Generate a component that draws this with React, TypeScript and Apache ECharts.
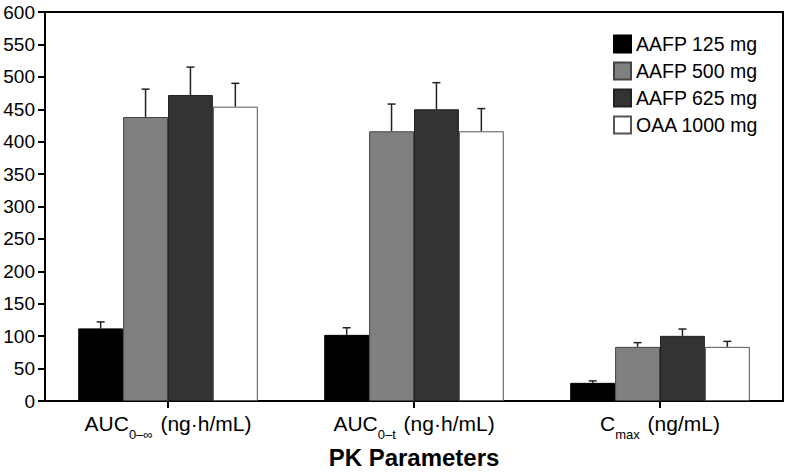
import React, { useEffect, useRef } from "react";
import * as echarts from "echarts";

const categories = ["AUC0-inf", "AUC0-t", "Cmax"];
const labelMain = ["AUC", "AUC", "C"];
const labelSub = ["0–∞", "0–t", "max"];
const labelUnit = [" (ng·h/mL)", " (ng·h/mL)", " (ng/mL)"];

const seriesNames = ["AAFP 125 mg", "AAFP 500 mg", "AAFP 625 mg", "OAA 1000 mg"];
const aafp125 = [112, 102, 28];
const aafp500 = [438, 416, 83.5];
const aafp625 = [472, 450, 100.5];
const oaa1000 = [454, 416, 83.5];
const aafp125Upper = [122, 113, 31];
const aafp500Upper = [481, 458, 90];
const aafp625Upper = [515, 491, 111];
const oaa1000Upper = [490, 451, 92];

const yTicks = [0, 50, 100, 150, 200, 250, 300, 350, 400, 450, 500, 550, 600];

const colors = ["#000000", "#808080", "#333333", "#ffffff"];
const borderColors = ["#000000", "#444444", "#222222", "#555555"];

const FONT = "Liberation Sans, Arial, sans-serif";
const GAP = 0.27;

export default function App() {
  const ref = useRef<HTMLDivElement>(null);
  useEffect(() => {
    if (!ref.current) return;
    const chart = echarts.init(ref.current, null, { renderer: "svg" });
    const means = [aafp125, aafp500, aafp625, oaa1000];
    const uppers = [aafp125Upper, aafp500Upper, aafp625Upper, oaa1000Upper];
    const n = means.length;

    const barSeries = means.map((vals, i) => ({
      name: seriesNames[i],
      type: "bar",
      data: vals,
      barGap: "0%",
      barCategoryGap: GAP * 100 + "%",
      itemStyle: { color: colors[i], borderColor: borderColors[i], borderWidth: 1 },
      z: 2,
    }));

    const errSeries = uppers.map((ups, i) => ({
      name: seriesNames[i] + " err",
      type: "custom",
      data: ups.map((u, c) => [c, means[i][c], u]),
      encode: { x: 0, y: [1, 2] },
      z: 1,
      renderItem: (params: any, api: any) => {
        const c = api.value(0);
        const m = api.value(1);
        const u = api.value(2);
        const catW = api.size([1, 0])[0];
        const barW = (catW * (1 - GAP)) / n;
        const base = api.coord([c, m]);
        const top = api.coord([c, u]);
        const x = base[0] - (catW * (1 - GAP)) / 2 + barW * (i + 0.5);
        const half = 4;
        const style = { stroke: "#222", lineWidth: 1.5, fill: null };
        return {
          type: "group",
          children: [
            { type: "line", shape: { x1: x, y1: base[1], x2: x, y2: top[1] }, style },
            { type: "line", shape: { x1: x - half, y1: top[1], x2: x + half, y2: top[1] }, style },
          ],
        };
      },
    }));

    chart.setOption({
      animation: false,
      textStyle: { fontFamily: FONT, color: "#000" },
      grid: {
        left: 45,
        right: 3,
        top: 12,
        bottom: 75,
        outerBoundsMode: "none",
        containLabel: false,
        show: true,
        borderColor: "#000",
        borderWidth: 2,
        backgroundColor: "#fff",
      },
      legend: {
        orient: "vertical",
        left: 613,
        top: 34,
        padding: 0,
        itemWidth: 17,
        itemHeight: 17,
        itemGap: 7,
        icon: "rect",
        data: seriesNames,
        textStyle: { fontSize: 19.5, color: "#000", fontFamily: FONT },
      },
      xAxis: {
        type: "category",
        data: categories,
        name: "PK Parameters",
        nameLocation: "middle",
        nameGap: 44,
        nameTextStyle: { fontSize: 24, fontWeight: "bold", color: "#000", fontFamily: FONT },
        axisLine: { lineStyle: { color: "#000", width: 2 } },
        axisTick: { show: true, alignWithLabel: true, length: 7, lineStyle: { color: "#000", width: 2 } },
        axisLabel: {
          margin: 10,
          formatter: (_v: string, idx: number) =>
            `{m|${labelMain[idx]}}{s|${labelSub[idx]}}{m|${labelUnit[idx]}}`,
          rich: {
            m: { fontSize: 21, color: "#000", fontFamily: FONT, lineHeight: 24 },
            s: { fontSize: 13, color: "#000", fontFamily: FONT, padding: [22, 2, 0, 0], lineHeight: 22 },
          },
        },
      },
      yAxis: {
        type: "value",
        min: 0,
        max: 600,
        interval: 50,
        splitLine: { show: false },
        axisLine: { show: true, lineStyle: { color: "#000", width: 2 } },
        axisTick: { show: true, length: 7, lineStyle: { color: "#000", width: 2 } },
        axisLabel: {
          fontSize: 19,
          color: "#000",
          fontFamily: FONT,
          margin: 10,
          formatter: (v: number) => (yTicks.includes(v) ? String(v) : ""),
        },
      },
      series: [...barSeries, ...errSeries],
    });
    return () => chart.dispose();
  }, []);
  return <div ref={ref} style={{ width: 786, height: 476, position: "absolute", left: 0, top: 0 }} />;
}
